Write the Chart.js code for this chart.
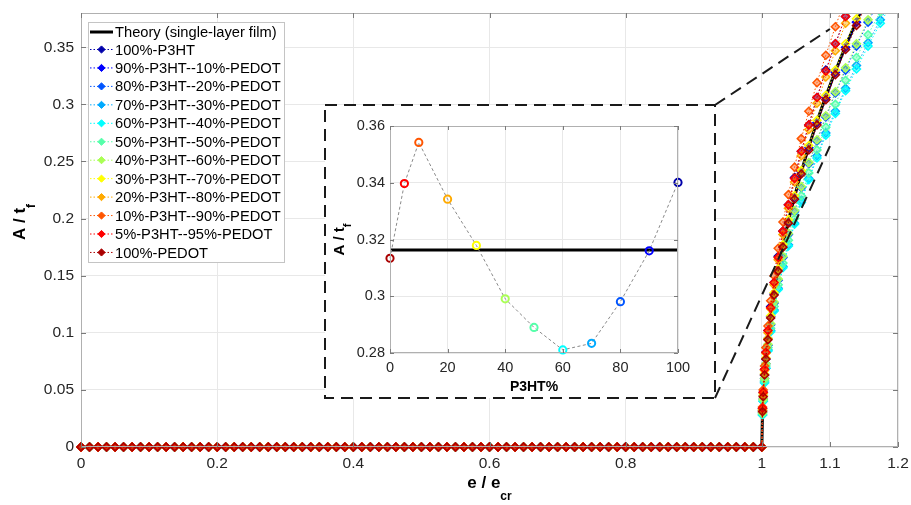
<!DOCTYPE html>
<html><head><meta charset="utf-8">
<script src="https://cdn.jsdelivr.net/npm/chart.js@4.4.1/dist/chart.umd.min.js"></script>
<style>
html,body{margin:0;padding:0;background:#fff;}
#wrap{position:relative;width:911px;height:505px;overflow:hidden;}
#main{position:absolute;left:0;top:0;}
#inset{position:absolute;left:0;top:0;}
</style></head><body>
<div id="wrap"><canvas id="main" width="911" height="505"></canvas><canvas id="inset" width="10" height="10"></canvas></div>
<script>
// ---------------- DATA ----------------
const seriesNames = ['100%-P3HT','90%-P3HT--10%-PEDOT','80%-P3HT--20%-PEDOT','70%-P3HT--30%-PEDOT',
  '60%-P3HT--40%-PEDOT','50%-P3HT--50%-PEDOT','40%-P3HT--60%-PEDOT','30%-P3HT--70%-PEDOT',
  '20%-P3HT--80%-PEDOT','10%-P3HT--90%-PEDOT','5%-P3HT--95%-PEDOT','100%-PEDOT'];
const theoryName = 'Theory (single-layer film)';
const seriesColors = ['#0000aa','#0000ff','#0055ff','#00aaff','#00ffff','#55ffaa',
  '#aaff55','#ffff00','#ffaa00','#ff5500','#ff0000','#aa0000'];

// strain samples (e/e_cr) before the critical strain, where A/t_f = 0
const flatStrain = [0,0.0125,0.025,0.0375,0.05,0.0625,0.075,0.0875,0.1,0.1125,0.125,0.1375,0.15,0.1625,0.175,0.1875,
  0.2,0.2125,0.225,0.2375,0.25,0.2625,0.275,0.2875,0.3,0.3125,0.325,0.3375,0.35,0.3625,0.375,0.3875,
  0.4,0.4125,0.425,0.4375,0.45,0.4625,0.475,0.4875,0.5,0.5125,0.525,0.5375,0.55,0.5625,0.575,0.5875,
  0.6,0.6125,0.625,0.6375,0.65,0.6625,0.675,0.6875,0.7,0.7125,0.725,0.7375,0.75,0.7625,0.775,0.7875,
  0.8,0.8125,0.825,0.8375,0.85,0.8625,0.875,0.8875,0.9,0.9125,0.925,0.9375,0.95,0.9625,0.975,0.9875];
// strain samples after buckling onset
const riseStrain = [1.000,1.001,1.002,1.004,1.006,1.009,1.013,1.018,1.024,1.031,1.039,1.048,
  1.058,1.069,1.081,1.094,1.108,1.123,1.139,1.156,1.174,1.193];

const theoryRise = [0,0.032,0.045,0.063,0.078,0.095,0.114,0.134,0.155,0.176,0.198,0.219,0.241,0.263,0.285,0.307,0.329,0.351,0.373,0.395];
const a100P3HT = [0,0.034,0.048,0.068,0.083,0.102,0.123,0.144,0.167,0.189,0.212,0.236,0.259,0.282,0.306,0.330,0.353,0.377,0.401];
const a90P3HT  = [0,0.032,0.045,0.063,0.077,0.095,0.114,0.134,0.155,0.176,0.197,0.219,0.241,0.262,0.284,0.306,0.328,0.350,0.372,0.395];
const a80P3HT  = [0,0.030,0.042,0.060,0.073,0.089,0.107,0.126,0.146,0.166,0.186,0.206,0.227,0.248,0.268,0.289,0.310,0.330,0.351,0.372,0.393];
const a70P3HT  = [0,0.028,0.040,0.057,0.069,0.085,0.102,0.120,0.139,0.158,0.177,0.196,0.216,0.235,0.255,0.275,0.294,0.314,0.334,0.354,0.374,0.394];
const a60P3HT  = [0,0.028,0.040,0.056,0.069,0.084,0.101,0.119,0.138,0.157,0.176,0.195,0.214,0.234,0.253,0.273,0.292,0.312,0.331,0.351,0.371,0.391];
const a50P3HT  = [0,0.029,0.041,0.058,0.071,0.087,0.104,0.123,0.142,0.161,0.181,0.200,0.220,0.240,0.260,0.280,0.300,0.321,0.341,0.361,0.381,0.401];
const a40P3HT  = [0,0.030,0.042,0.060,0.073,0.090,0.108,0.127,0.147,0.167,0.187,0.207,0.228,0.249,0.269,0.290,0.311,0.332,0.353,0.374,0.395];
const a30P3HT  = [0,0.032,0.045,0.064,0.078,0.095,0.115,0.135,0.156,0.177,0.199,0.220,0.242,0.264,0.286,0.308,0.330,0.353,0.375,0.397];
const a20P3HT  = [0,0.033,0.047,0.067,0.082,0.100,0.121,0.142,0.164,0.186,0.209,0.232,0.255,0.278,0.301,0.324,0.347,0.371,0.394];
const a10P3HT  = [0,0.035,0.050,0.071,0.087,0.106,0.128,0.150,0.174,0.197,0.221,0.245,0.270,0.294,0.319,0.343,0.368,0.393];
const a5P3HT   = [0,0.034,0.048,0.068,0.083,0.102,0.122,0.144,0.166,0.189,0.212,0.235,0.259,0.282,0.306,0.329,0.353,0.377,0.400];
const a0P3HT   = [0,0.031,0.044,0.063,0.077,0.094,0.113,0.133,0.154,0.175,0.196,0.217,0.239,0.260,0.282,0.304,0.326,0.348,0.369,0.391];
const riseValues = [a100P3HT,a90P3HT,a80P3HT,a70P3HT,a60P3HT,a50P3HT,a40P3HT,a30P3HT,a20P3HT,a10P3HT,a5P3HT,a0P3HT];

const xTickVals = [0,0.2,0.4,0.6,0.8,1,1.1,1.2];
const yTickVals = [0,0.05,0.1,0.15,0.2,0.25,0.3,0.35];

// inset: A/t_f at e/e_cr = 1.1
const p3htPct = [0,5,10,20,30,40,50,60,70,80,90,100];
const insetA  = [0.3134,0.3397,0.3542,0.3342,0.3179,0.2991,0.2890,0.2811,0.2834,0.2981,0.3160,0.3401];
const insetTheory = 0.3163;
const insetXTicks = [0,20,40,60,80,100];
const insetYTicks = [0.28,0.3,0.32,0.34,0.36];

// ---------------- LAYOUT (not data) ----------------
const FONT = '"Liberation Sans", Arial, Helvetica, sans-serif';
const insetBox = {x0:0.3588, x1:0.9309, yTop:0.2995, yBot:0.0430}; // in main-axis units
const zoomTop = {x:1.1, y:0.366}, zoomBot = {x:1.1, y:0.2635};

function rgba(hex, a){
  const r=parseInt(hex.slice(1,3),16), g=parseInt(hex.slice(3,5),16), b=parseInt(hex.slice(5,7),16);
  return `rgba(${r},${g},${b},${a})`;
}

function drawSubText(ctx, main, sub, x, y, mainFont, subFont, subDrop, align){
  ctx.font = mainFont; const w1 = ctx.measureText(main).width;
  ctx.font = subFont; const w2 = ctx.measureText(sub).width;
  const start = align==='center' ? x-(w1+w2)/2 : x;
  ctx.textAlign='left'; ctx.textBaseline='alphabetic';
  ctx.font = mainFont; ctx.fillText(main, start, y);
  ctx.font = subFont; ctx.fillText(sub, start+w1, y+subDrop);
}

function drawFrameAndTicks(ctx, a, xs, ys, len){
  ctx.save();
  ctx.strokeStyle='#b0b0b0'; ctx.lineWidth=1;
  ctx.strokeRect(Math.round(a.left)+0.5, Math.round(a.top)+0.5, Math.round(a.right-a.left)-1, Math.round(a.bottom-a.top)-1);
  ctx.strokeStyle='#7a7a7a';
  ctx.beginPath();
  xs.ticks.forEach(t=>{const p=Math.round(xs.getPixelForValue(t.value))+0.5;
    ctx.moveTo(p,a.bottom); ctx.lineTo(p,a.bottom-len); ctx.moveTo(p,a.top); ctx.lineTo(p,a.top+len);});
  ys.ticks.forEach(t=>{const p=Math.round(ys.getPixelForValue(t.value))+0.5;
    ctx.moveTo(a.left,p); ctx.lineTo(a.left+len,p); ctx.moveTo(a.right,p); ctx.lineTo(a.right-len,p);});
  ctx.stroke();
  ctx.restore();
}

function fitX(h){ return function(s){ s.height=h; s.paddingLeft=0; s.paddingRight=0; }; }
function fitY(w){ return function(s){ s.width=w; s.paddingTop=0; s.paddingBottom=0; }; }

// ---------------- MAIN CHART ----------------
const clipOpt = {left:8,right:0,top:0,bottom:8};
const datasets = [];
datasets.push({
  label: theoryName,
  data: [{x:flatStrain[0], y:0}].concat(theoryRise.map((v,k)=>({x:riseStrain[k], y:v}))),
  borderColor:'#000', borderWidth:3, pointRadius:0, order:100, clip:clipOpt, tension:0
});
seriesNames.forEach((name,i)=>{
  const data = flatStrain.map(s=>({x:s,y:0})).concat(riseValues[i].map((v,k)=>({x:riseStrain[k], y:v})));
  datasets.push({
    label:name, data,
    borderColor: seriesColors[i], borderWidth:1, borderDash:[1.5,2],
    pointStyle:'rectRot', pointRadius:4, pointBorderWidth:1.5,
    pointBorderColor: seriesColors[i], pointBackgroundColor: rgba(seriesColors[i],0.45),
    order: 50 - i, clip: clipOpt, tension:0
  });
});

const mainDecor = {
  id:'mainDecor',
  afterDraw(chart){
    const {ctx, chartArea:a, scales:{x:xs, y:ys}} = chart;
    drawFrameAndTicks(ctx, a, xs, ys, 5);
    ctx.save();
    ctx.fillStyle='#000';
    // axis titles
    drawSubText(ctx,'e / e','cr', (a.left+a.right)/2, 488, 'bold 17px '+FONT, 'bold 12px '+FONT, 12, 'center');
    ctx.save(); ctx.translate(25, 222); ctx.rotate(-Math.PI/2);
    drawSubText(ctx,'A / t','f', 0, 0, 'bold 17px '+FONT, 'bold 12px '+FONT, 10, 'center');
    ctx.restore();
    // inset box and zoom connectors
    const bx0=Math.round(xs.getPixelForValue(insetBox.x0)), bx1=Math.round(xs.getPixelForValue(insetBox.x1));
    const by0=Math.round(ys.getPixelForValue(insetBox.yTop)), by1=Math.round(ys.getPixelForValue(insetBox.yBot));
    ctx.fillStyle='#fff'; ctx.fillRect(bx0,by0,bx1-bx0,by1-by0);
    ctx.strokeStyle='#1a1a1a'; ctx.lineWidth=2; ctx.setLineDash([12,7]);
    ctx.strokeRect(bx0,by0,bx1-bx0,by1-by0);
    ctx.beginPath();
    ctx.moveTo(bx1,by0); ctx.lineTo(xs.getPixelForValue(zoomTop.x), ys.getPixelForValue(zoomTop.y));
    ctx.moveTo(bx1,by1); ctx.lineTo(xs.getPixelForValue(zoomBot.x), ys.getPixelForValue(zoomBot.y));
    ctx.stroke();
    ctx.setLineDash([]);
    // legend
    const lx=88, ly=22, lw=196, lh=240;
    ctx.fillStyle='#fff'; ctx.fillRect(lx,ly,lw,lh);
    ctx.strokeStyle='#c4c4c4'; ctx.lineWidth=1; ctx.strokeRect(lx+0.5,ly+0.5,lw,lh);
    ctx.font='14.7px '+FONT; ctx.textBaseline='middle'; ctx.textAlign='left';
    let ry = 32;
    ctx.strokeStyle='#000'; ctx.lineWidth=3; ctx.beginPath(); ctx.moveTo(90,ry); ctx.lineTo(113,ry); ctx.stroke();
    ctx.fillStyle='#000'; ctx.fillText(theoryName,115,ry+1);
    seriesNames.forEach((name,i)=>{
      const yy = 49.5 + i*18.45;
      const c = seriesColors[i];
      ctx.strokeStyle=c; ctx.lineWidth=1; ctx.setLineDash([1.5,2]);
      ctx.beginPath(); ctx.moveTo(90,yy); ctx.lineTo(113,yy); ctx.stroke(); ctx.setLineDash([]);
      ctx.beginPath(); ctx.moveTo(101.5,yy-3.6); ctx.lineTo(105.1,yy); ctx.lineTo(101.5,yy+3.6); ctx.lineTo(97.9,yy); ctx.closePath();
      ctx.fillStyle=c; ctx.fill(); ctx.lineWidth=1; ctx.strokeStyle=c; ctx.stroke();
      ctx.fillStyle='#000'; ctx.fillText(name,115,yy+1);
    });
    ctx.restore();
  }
};

const mainChart = new Chart(document.getElementById('main'), {
  type:'line',
  data:{datasets},
  options:{
    animation:false, responsive:false, devicePixelRatio:1, events:[],
    layout:{padding:{top:13,right:13,left:0,bottom:0}},
    plugins:{legend:{display:false}, tooltip:{enabled:false}},
    scales:{
      x:{type:'linear', min:0, max:1.2,
        afterFit: fitX(58),
        afterBuildTicks(s){s.ticks=xTickVals.map(v=>({value:v}));},
        ticks:{callback:v=>String(v), font:{family:FONT,size:15.5}, color:'#262626', padding:7, maxRotation:0, autoSkip:false},
        grid:{color:'#e8e8e8', drawTicks:false}, border:{display:false}},
      y:{type:'linear', min:0, max:0.38,
        afterFit: fitY(81),
        afterBuildTicks(s){s.ticks=yTickVals.map(v=>({value:v}));},
        ticks:{callback:v=>String(v), font:{family:FONT,size:15.5}, color:'#262626', padding:7, autoSkip:false},
        grid:{color:'#e8e8e8', drawTicks:false}, border:{display:false}}
    }
  },
  plugins:[mainDecor]
});

// ---------------- INSET CHART ----------------
const xs = mainChart.scales.x, ys = mainChart.scales.y;
const bx0=Math.round(xs.getPixelForValue(insetBox.x0)), bx1=Math.round(xs.getPixelForValue(insetBox.x1));
const by0=Math.round(ys.getPixelForValue(insetBox.yTop)), by1=Math.round(ys.getPixelForValue(insetBox.yBot));
const insetCanvas = document.getElementById('inset');
insetCanvas.style.left=(bx0+2)+'px'; insetCanvas.style.top=(by0+2)+'px';
insetCanvas.width = bx1-bx0-4; insetCanvas.height = by1-by0-4;

const insetColors = seriesColors.slice().reverse(); // p3htPct ascending = series order reversed

const insetDecor = {
  id:'insetDecor',
  beforeDraw(chart){ const c=chart.ctx; c.save(); c.fillStyle='#fff'; c.fillRect(0,0,chart.width,chart.height); c.restore(); },
  afterDraw(chart){
    const {ctx, chartArea:a, scales:{x:ix, y:iy}} = chart;
    drawFrameAndTicks(ctx, a, ix, iy, 4);
    ctx.save(); ctx.fillStyle='#000';
    ctx.font='bold 14px '+FONT; ctx.textAlign='center'; ctx.textBaseline='alphabetic';
    ctx.fillText('P3HT%', (a.left+a.right)/2, chart.height-5);
    ctx.translate(a.left-46, (a.top+a.bottom)/2); ctx.rotate(-Math.PI/2);
    drawSubText(ctx,'A / t','f', 0, 0, 'bold 15px '+FONT, 'bold 11px '+FONT, 7, 'center');
    ctx.restore();
  }
};

new Chart(insetCanvas, {
  type:'line',
  data:{datasets:[
    {data: p3htPct.map((p,k)=>({x:p,y:insetA[k]})), borderColor:'#8a8a8a', borderWidth:1, borderDash:[3,2.5],
     pointStyle:'circle', pointRadius:3.6, pointBorderWidth:2, pointBorderColor:insetColors,
     pointBackgroundColor:'rgba(255,255,255,0)', clip:false, order:1, tension:0},
    {data:[{x:insetXTicks[0],y:insetTheory},{x:insetXTicks[insetXTicks.length-1],y:insetTheory}],
     borderColor:'#000', borderWidth:3, pointRadius:0, clip:false, order:2}
  ]},
  options:{
    animation:false, responsive:false, devicePixelRatio:1, events:[],
    layout:{padding:{top:19,right:35,left:0,bottom:0}},
    plugins:{legend:{display:false}, tooltip:{enabled:false}},
    scales:{
      x:{type:'linear', min:0, max:100,
        afterFit: fitX(43),
        afterBuildTicks(s){s.ticks=insetXTicks.map(v=>({value:v}));},
        ticks:{callback:v=>String(v), font:{family:FONT,size:14.5}, color:'#262626', padding:6, maxRotation:0, autoSkip:false},
        grid:{color:'#e8e8e8', drawTicks:false}, border:{display:false}},
      y:{type:'linear', min:0.28, max:0.36,
        afterFit: fitY(63),
        afterBuildTicks(s){s.ticks=insetYTicks.map(v=>({value:v}));},
        ticks:{callback:v=>String(v), font:{family:FONT,size:14.5}, color:'#262626', padding:5, autoSkip:false},
        grid:{color:'#e8e8e8', drawTicks:false}, border:{display:false}}
    }
  },
  plugins:[insetDecor]
});
</script>
</body></html>
